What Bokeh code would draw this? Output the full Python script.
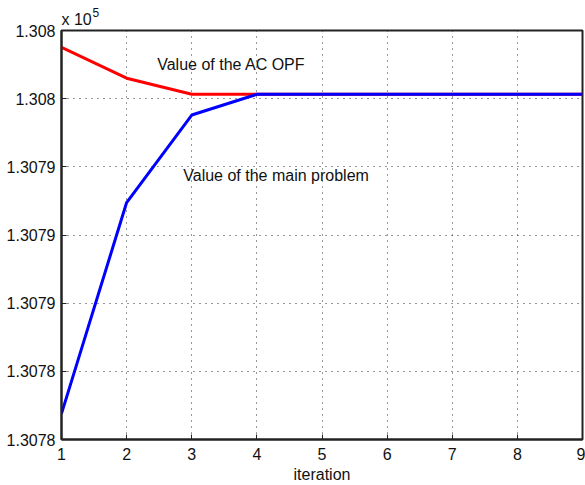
from bokeh.plotting import figure
from bokeh.models import FixedTicker, Range1d, Label, Title
from bokeh.embed import file_html
from bokeh.resources import INLINE

iterations = [1, 2, 3, 4, 5, 6, 7, 8, 9]
ac_opf = [130796.88, 130795.75, 130795.16, 130795.16, 130795.16, 130795.16, 130795.16, 130795.16, 130795.16]
main_problem = [130783.45, 130791.19, 130794.40, 130795.16, 130795.16, 130795.16, 130795.16, 130795.16, 130795.16]

y_ticks = [130782.5, 130785.0, 130787.5, 130790.0, 130792.5, 130795.0, 130797.5]
y_tick_labels = ["1.3078", "1.3078", "1.3079", "1.3079", "1.3079", "1.308", "1.308"]
x_ticks = [1, 2, 3, 4, 5, 6, 7, 8, 9]

ann_texts = ["Value of the AC OPF", "Value of the main problem"]
ann_x = [2.47, 2.87]
ann_y = [130796.26, 130792.17]

FONT = "Liberation Sans"
FS = "16px"

p = figure(width=585, height=485, output_backend="svg", toolbar_location=None,
           x_range=Range1d(1, 9), y_range=Range1d(y_ticks[0], y_ticks[-1]),
           min_border_left=61, min_border_right=3, min_border_top=30, min_border_bottom=44,
           title=Title(text="5", text_font=FONT, text_font_size="12px", text_font_style="normal",
                       align="left", offset=31, standoff=-21, text_color="#111111"))
p.add_layout(Title(text="x 10", text_font=FONT, text_font_size="16px", text_font_style="normal",
                   align="left", offset=0, standoff=5, text_color="#111111"), "above")

p.line(iterations, ac_opf, line_color="#ff0000", line_width=3)
p.line(iterations, main_problem, line_color="#0000ff", line_width=3)

p.xaxis.ticker = FixedTicker(ticks=x_ticks)
p.yaxis.ticker = FixedTicker(ticks=y_ticks)
p.yaxis.major_label_overrides = {t: l for t, l in zip(y_ticks, y_tick_labels)}
for ax in (p.xaxis[0], p.yaxis[0]):
    ax.major_tick_in = 5
    ax.major_tick_out = 0
    ax.minor_tick_in = 0
    ax.minor_tick_out = 0
    ax.axis_line_width = 2
    ax.axis_line_color = "#222222"
    ax.major_tick_line_color = "#222222"
    ax.major_label_text_font = FONT
    ax.major_label_text_font_size = FS
    ax.major_label_text_color = "#111111"
    ax.major_label_standoff = 6
p.xaxis.axis_label = "iteration"
p.xaxis.axis_label_text_font = FONT
p.xaxis.axis_label_text_font_size = "16px"
p.xaxis.axis_label_text_font_style = "normal"
p.xaxis.axis_label_text_color = "#111111"
p.xaxis.axis_label_standoff = 3
p.xaxis.major_label_standoff = 8

p.outline_line_color = "#222222"
p.outline_line_width = 2
p.xgrid.ticker = FixedTicker(ticks=x_ticks)
p.ygrid.ticker = FixedTicker(ticks=y_ticks)
for g in (p.xgrid[0], p.ygrid[0]):
    g.grid_line_color = "#333333"
    g.grid_line_dash = "1 5"
    g.grid_line_width = 1

for t, x, y in zip(ann_texts, ann_x, ann_y):
    p.add_layout(Label(x=x, y=y, text=t, text_font=FONT, text_font_size=FS,
                       text_baseline="middle", text_color="#111111"))

open("out.html", "w").write(file_html(p, INLINE))
